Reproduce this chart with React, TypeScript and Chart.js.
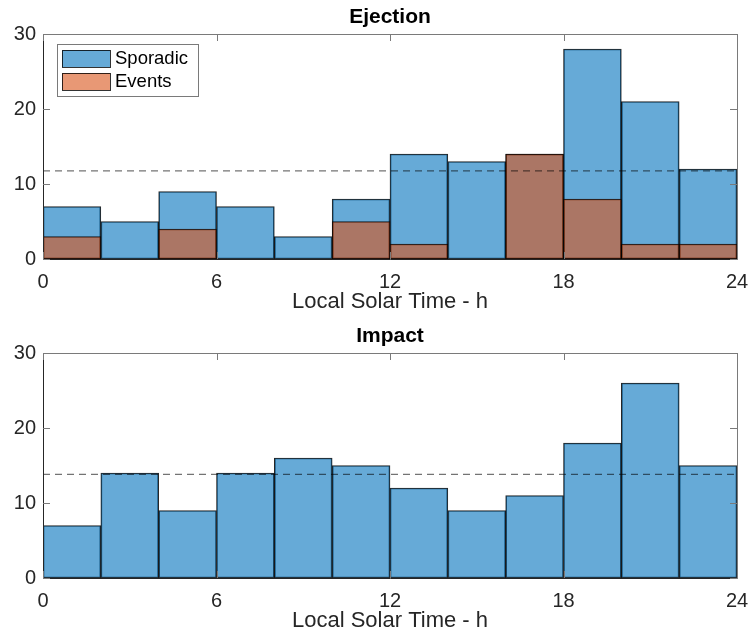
import React, { useEffect, useRef } from "react";
import { Chart, registerables } from "chart.js";

Chart.register(...registerables);

const binCenters = [1, 3, 5, 7, 9, 11, 13, 15, 17, 19, 21, 23];
const xTicks = [0, 6, 12, 18, 24];
const yTicks = [0, 10, 20, 30];
const ejectionSporadic = [7, 5, 9, 7, 3, 8, 14, 13, 14, 28, 21, 12];
const ejectionEvents = [3, 0, 4, 0, 0, 5, 2, 0, 14, 8, 2, 2];
const impactSporadic = [7, 14, 9, 14, 16, 15, 12, 9, 11, 18, 26, 15];
const ejectionMean = 11.75;
const impactMean = 13.83;

const FONT = "'Liberation Sans', Arial, Helvetica, sans-serif";
const AXIS_COLOR = "#262626";
const BLUE = "rgba(0,114,189,0.6)";
const ORANGE = "rgba(217,83,25,0.6)";

function framePlugin(title: string, legend: boolean) {
  return {
    id: "frame" + title,
    afterDraw(chart: any) {
      const { ctx, chartArea } = chart;
      const { left, right, top, bottom } = chartArea;
      const xs = chart.scales.x;
      const ys = chart.scales.y;
      ctx.save();
      ctx.strokeStyle = AXIS_COLOR;
      ctx.lineWidth = 1;
      ctx.beginPath();
      ctx.moveTo(left + 0.5, top + 0.5);
      ctx.lineTo(left + 0.5, bottom + 0.5);
      ctx.lineTo(right + 0.5, bottom + 0.5);
      ctx.stroke();
      ctx.strokeStyle = "#7a7a7a";
      ctx.beginPath();
      ctx.moveTo(left + 0.5, top + 0.5);
      ctx.lineTo(right + 0.5, top + 0.5);
      ctx.lineTo(right + 0.5, bottom + 0.5);
      ctx.stroke();
      const tl = 7;
      ctx.strokeStyle = "#7a7a7a";
      ctx.beginPath();
      xTicks.forEach((v) => {
        const px = Math.round(xs.getPixelForValue(v)) + 0.5;
        ctx.moveTo(px, top);
        ctx.lineTo(px, top + tl);
        ctx.moveTo(px, bottom);
        ctx.lineTo(px, bottom - tl);
      });
      yTicks.forEach((v) => {
        const py = Math.round(ys.getPixelForValue(v)) + 0.5;
        ctx.moveTo(left, py);
        ctx.lineTo(left + tl, py);
        ctx.moveTo(right, py);
        ctx.lineTo(right - tl, py);
      });
      ctx.stroke();
      ctx.fillStyle = "#000";
      ctx.font = "bold 21px " + FONT;
      ctx.textAlign = "center";
      ctx.textBaseline = "middle";
      ctx.fillText(title, (left + right) / 2, 17);
      if (legend) {
        const lx = 57, ly = 44, lw = 141, lh = 52;
        ctx.fillStyle = "#fff";
        ctx.fillRect(lx, ly, lw, lh);
        ctx.strokeStyle = "#7a7a7a";
        ctx.strokeRect(lx + 0.5, ly + 0.5, lw, lh);
        const items = [
          { label: "Sporadic", color: BLUE },
          { label: "Events", color: ORANGE },
        ];
        items.forEach((it, i) => {
          const sy = 50 + i * 23;
          ctx.fillStyle = it.color;
          ctx.fillRect(62, sy, 48, 17);
          ctx.strokeStyle = "rgba(0,0,0,0.8)";
          ctx.strokeRect(62.5, sy + 0.5, 48, 17);
          ctx.fillStyle = "#000";
          ctx.font = "18.5px " + FONT;
          ctx.textAlign = "left";
          ctx.textBaseline = "middle";
          ctx.fillText(it.label, 115, sy + 9);
        });
      }
      ctx.restore();
    },
  };
}

function makeConfig(title: string, series: { data: number[]; color: string; label: string }[], mean: number, legend: boolean) {
  const datasets: any[] = series.map((s, i) => ({
    type: "bar",
    label: s.label,
    data: binCenters.map((x, j) => ({ x, y: s.data[j] })),
    backgroundColor: s.color,
    borderColor: "rgba(0,0,0,0.85)",
    borderWidth: 1,
    borderSkipped: false,
    barPercentage: 1,
    categoryPercentage: 1,
    grouped: false,
    order: 10 - i,
  }));
  datasets.push({
    type: "line",
    label: "mean",
    data: [
      { x: 0, y: mean },
      { x: 24, y: mean },
    ],
    borderColor: "rgba(0,0,0,0.55)",
    borderWidth: 1.2,
    borderDash: [7, 5],
    pointRadius: 0,
    order: 0,
  });
  return {
    type: "bar",
    data: { datasets },
    options: {
      responsive: false,
      animation: false,
      layout: { padding: { top: 34, right: 14, left: 0, bottom: 0 } },
      plugins: { legend: { display: false }, tooltip: { enabled: false }, title: { display: false } },
      scales: {
        x: {
          type: "linear",
          min: 0,
          max: 24,
          offset: false,
          grid: { display: false, offset: false, drawTicks: false },
          border: { display: false },
          ticks: {
            stepSize: 6,
            padding: 11,
            color: AXIS_COLOR,
            font: { family: FONT, size: 20 },
            maxRotation: 0,
          },
          title: {
            display: true,
            text: "Local Solar Time - h",
            color: AXIS_COLOR,
            font: { family: FONT, size: 22 },
            padding: { top: 0, bottom: 3 },
          },
          afterFit: (s: any) => {
            s.height = 59;
            s.paddingLeft = 0;
            s.paddingRight = 0;
          },
        },
        y: {
          min: 0,
          max: 30,
          grid: { display: false, drawTicks: false },
          border: { display: false },
          ticks: {
            stepSize: 10,
            padding: 7,
            color: AXIS_COLOR,
            font: { family: FONT, size: 20 },
          },
          afterFit: (s: any) => {
            s.width = 43;
            s.paddingTop = 0;
            s.paddingBottom = 0;
          },
        },
      },
    },
    plugins: [framePlugin(title, legend)],
  } as any;
}

function Panel({ title, series, mean, legend, top, height }: any) {
  const ref = useRef<HTMLCanvasElement>(null);
  useEffect(() => {
    if (!ref.current) return;
    const chart = new Chart(ref.current, makeConfig(title, series, mean, legend));
    return () => chart.destroy();
  }, []);
  return (
    <canvas
      ref={ref}
      width={751}
      height={height}
      style={{ position: "absolute", left: 0, top, width: 751, height }}
    />
  );
}

export default function App() {
  return (
    <div style={{ position: "absolute", left: 0, top: 0, width: 751, height: 637, background: "#fff" }}>
      <Panel
        title="Ejection"
        series={[
          { data: ejectionSporadic, color: BLUE, label: "Sporadic" },
          { data: ejectionEvents, color: ORANGE, label: "Events" },
        ]}
        mean={ejectionMean}
        legend={true}
        top={0}
        height={318}
      />
      <Panel
        title="Impact"
        series={[{ data: impactSporadic, color: BLUE, label: "Sporadic" }]}
        mean={impactMean}
        legend={false}
        top={319}
        height={318}
      />
    </div>
  );
}
